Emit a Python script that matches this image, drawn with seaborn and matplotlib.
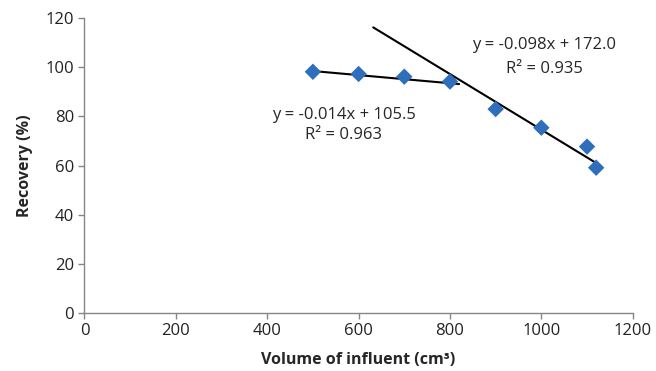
import pandas as pd
import matplotlib
matplotlib.use("Agg")
import matplotlib.pyplot as plt
import seaborn as sns
import numpy as np

# measured points
volume = [500, 600, 700, 800, 900, 1000, 1100, 1120]
recovery = [98.2, 97.3, 96.2, 94.2, 83.0, 75.4, 67.7, 59.1]

# trend lines as drawn in the figure (endpoints)
trend1_x = [500, 820]
trend1_y = [98.5, 93.2]
trend2_x = [632, 1121]
trend2_y = [116.3, 60.9]

eq1 = ["y = -0.014x + 105.5", "R² = 0.963"]
eq2 = ["y = -0.098x + 172.0", "R² = 0.935"]

sns.set_style("white")
plt.rcParams['font.family'] = ['Open Sans', 'DejaVu Sans']

df = pd.DataFrame({"Volume": volume, "Recovery": recovery})

fig = plt.figure(figsize=(6.56, 3.71), dpi=100)
ax = fig.add_axes([0.1288, 0.1571, 0.8357, 0.7936])

sns.lineplot(x=trend1_x, y=trend1_y, ax=ax, color="black", linewidth=1.5)
sns.lineplot(x=trend2_x, y=trend2_y, ax=ax, color="black", linewidth=1.5)
sns.scatterplot(data=df, x="Volume", y="Recovery", ax=ax, marker="D", s=70,
                color="#2F6EBA", edgecolor="none", zorder=3)

ax.text(568, 80.6, eq1[0], ha="center", va="center", fontsize=12)
ax.text(568, 72.4, eq1[1], ha="center", va="center", fontsize=12)
ax.text(1006, 109, eq2[0], ha="center", va="center", fontsize=12)
ax.text(1006, 99.3, eq2[1], ha="center", va="center", fontsize=12)

ax.set_xlim(0, 1200)
ax.set_ylim(0, 120)
ax.set_xticks(np.arange(0, 1201, 200))
ax.set_yticks(np.arange(0, 121, 20))
ax.tick_params(axis="both", direction="out", length=4, width=1, color="#868686",
               labelsize=12, labelcolor="#222222", bottom=True, left=True)
for side in ["top", "right"]:
    ax.spines[side].set_visible(False)
for side in ["left", "bottom"]:
    ax.spines[side].set_color("#868686")
    ax.spines[side].set_linewidth(1)

ax.set_xlabel("Volume of influent (cm³)", fontsize=11.5, fontweight="bold", labelpad=9)
ax.set_ylabel("Recovery (%)", fontsize=11.5, fontweight="bold", labelpad=9)

fig.savefig("out.png", dpi=100)
